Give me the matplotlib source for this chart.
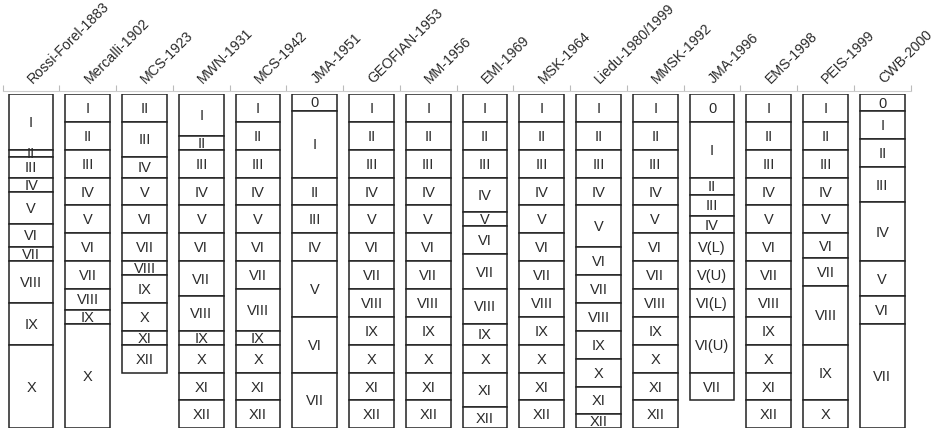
import matplotlib
matplotlib.use("Agg")
import matplotlib.pyplot as plt
import numpy as np

plt.rcParams['font.family'] = ['Liberation Sans', 'DejaVu Sans']

# intensity scales, compared against a 12-degree reference height
scales = ['Rossi-Forel-1883', 'Mercalli-1902', 'MCS-1923', 'MWN-1931', 'MCS-1942',
          'JMA-1951', 'GEOFIAN-1953', 'MM-1956', 'EMI-1969', 'MSK-1964',
          'Liedu-1980/1999', 'MMSK-1992', 'JMA-1996', 'EMS-1998', 'PEIS-1999', 'CWB-2000']

roman12 = ['I', 'II', 'III', 'IV', 'V', 'VI', 'VII', 'VIII', 'IX', 'X', 'XI', 'XII']
even12 = [0, 1, 2, 3, 4, 5, 6, 7, 8, 9, 10, 11, 12]

levels = [
    roman12[:10],
    roman12[:10],
    roman12[1:],
    roman12,
    roman12,
    ['0', 'I', 'II', 'III', 'IV', 'V', 'VI', 'VII'],
    roman12,
    roman12,
    roman12,
    roman12,
    roman12,
    roman12,
    ['0', 'I', 'II', 'III', 'IV', 'V(L)', 'V(U)', 'VI(L)', 'VI(U)', 'VII'],
    roman12,
    roman12[:10],
    ['0', 'I', 'II', 'III', 'IV', 'V', 'VI', 'VII'],
]

# level boundaries (top = 0, bottom = 12)
edges = [
    [0, 2, 2.25, 3, 3.5, 4.65, 5.5, 6, 7.5, 9, 12],
    [0, 1, 2, 3, 4, 5, 6, 7, 7.75, 8.25, 12],
    [0, 1, 2.25, 3, 4, 5, 6, 6.5, 7.5, 8.5, 9, 10],
    [0, 1.5, 2, 3, 4, 5, 6, 7.25, 8.5, 9, 10, 11, 12],
    [0, 1, 2, 3, 4, 5, 6, 7, 8.5, 9, 10, 11, 12],
    [0, 0.6, 3, 4, 5, 6, 8, 10, 12],
    even12,
    even12,
    [0, 1, 2, 3, 4.25, 4.75, 5.75, 7, 8.25, 9, 10, 11.25, 12],
    even12,
    [0, 1, 2, 3, 4, 5.5, 6.5, 7.5, 8.5, 9.5, 10.5, 11.5, 12],
    even12,
    [0, 1, 3, 3.625, 4.375, 5, 6, 7, 8, 10, 11],
    even12,
    [0, 1, 2, 3, 4, 5, 5.9, 6.9, 9, 11, 12],
    [0, 0.625, 1.625, 2.625, 3.875, 6, 7.25, 8.25, 12],
]

fig = plt.figure(figsize=(9.37, 4.31), dpi=100)
ax = fig.add_axes([0.00288, 0.0039, 0.969, 0.7756])

for i, (lv, ed) in enumerate(zip(levels, edges)):
    ed = np.array(ed, dtype=float)
    ax.bar(np.full(len(lv), i), np.diff(ed), bottom=ed[:-1], width=0.79,
           color='white', edgecolor='#222222', linewidth=1.1)
    for name, a, b in zip(lv, ed[:-1], ed[1:]):
        ax.text(i, (a + b) / 2, name, ha='center', va='center',
                fontsize=10.5, color='#2a2a2a')
    ax.text(i + 0.03, -0.4, scales[i], rotation=45, rotation_mode='anchor',
            ha='left', va='baseline', fontsize=10.2, color='#2a2a2a', clip_on=False)

ax.set_xlim(-0.5, len(scales) - 0.5)
ax.set_ylim(12, 0)
ax.set_yticks([])
ax.xaxis.tick_top()
ax.set_xticks([])
ax.set_xticks(np.arange(-0.5, len(scales)), minor=True)
ax.tick_params(axis='x', which='minor', length=4, color='#bbbbbb', width=0.8)
for s in ['left', 'right', 'bottom']:
    ax.spines[s].set_visible(False)
ax.spines['top'].set_color('#cccccc')
ax.spines['top'].set_linewidth(0.8)
ax.spines['top'].set_position(('outward', 2))

fig.savefig('out.png', dpi=100)
